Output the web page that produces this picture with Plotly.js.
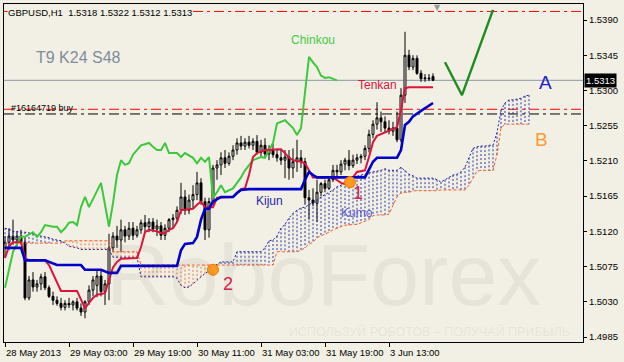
<!DOCTYPE html>
<html><head><meta charset="utf-8">
<script src="https://cdn.plot.ly/plotly-3.0.1.min.js"></script>
<style>html,body{margin:0;padding:0;background:#f2f0e4;overflow:hidden}#chart{width:624px;height:362px}</style>
</head><body><div id="chart"></div>
<script>
// ---- price bars (GBPUSD H1), bar index 0 = 28 May 2013 11:00 ----
const open = [1.5099,1.5106,1.5114,1.5109,1.5114,1.5106,1.5035,1.5058,1.5049,1.5053,
1.5062,1.5048,1.5037,1.5032,1.5028,1.5023,1.5028,1.5026,1.5030,1.5022,
1.5017,1.5030,1.5045,1.5051,1.5063,1.5043,1.5053,1.5099,1.5114,1.5109,
1.5122,1.5114,1.5124,1.5115,1.5122,1.5131,1.5126,1.5132,1.5123,1.5127,
1.5115,1.5124,1.5135,1.5137,1.5147,1.5164,1.5147,1.5160,1.5167,1.5182,
1.5158,1.5122,1.5158,1.5201,1.5205,1.5214,1.5207,1.5216,1.5224,1.5233,
1.5229,1.5234,1.5230,1.5235,1.5221,1.5230,1.5219,1.5224,1.5218,1.5214,
1.5211,1.5215,1.5201,1.5209,1.5214,1.5209,1.5163,1.5160,1.5156,1.5170,
1.5181,1.5175,1.5186,1.5198,1.5196,1.5206,1.5211,1.5204,1.5211,1.5214,
1.5216,1.5226,1.5244,1.5257,1.5265,1.5260,1.5252,1.5248,1.5252,1.5237,
1.5294,1.5345,1.5330,1.5341,1.5322,1.5315,1.5316,1.5318];
const high = [1.5114,1.5124,1.5135,1.5119,1.5122,1.5112,1.5063,1.5068,1.5058,1.5066,
1.5068,1.5051,1.5043,1.5037,1.5035,1.5032,1.5035,1.5032,1.5035,1.5028,
1.5032,1.5051,1.5063,1.5071,1.5071,1.5058,1.5117,1.5119,1.5127,1.5135,
1.5127,1.5132,1.5132,1.5127,1.5135,1.5141,1.5137,1.5137,1.5135,1.5132,
1.5129,1.5137,1.5142,1.5152,1.5182,1.5173,1.5167,1.5179,1.5196,1.5188,
1.5163,1.5163,1.5205,1.5211,1.5221,1.5224,1.5221,1.5230,1.5239,1.5242,
1.5239,1.5242,1.5239,1.5243,1.5237,1.5239,1.5230,1.5232,1.5226,1.5224,
1.5224,1.5224,1.5226,1.5237,1.5224,1.5214,1.5173,1.5175,1.5186,1.5183,
1.5186,1.5188,1.5205,1.5205,1.5211,1.5214,1.5224,1.5218,1.5219,1.5219,
1.5230,1.5250,1.5262,1.5285,1.5273,1.5267,1.5262,1.5260,1.5273,1.5303,
1.5375,1.5352,1.5345,1.5345,1.5326,1.5321,1.5321,1.5322];
const low = [1.5086,1.5096,1.5103,1.5101,1.5103,1.5032,1.5032,1.5043,1.5043,1.5045,
1.5045,1.5035,1.5026,1.5025,1.5019,1.5019,1.5022,1.5019,1.5019,1.5012,
1.5009,1.5026,1.5037,1.5036,1.5037,1.5026,1.5032,1.5094,1.5099,1.5094,
1.5106,1.5109,1.5109,1.5112,1.5117,1.5119,1.5119,1.5119,1.5114,1.5109,
1.5109,1.5119,1.5124,1.5132,1.5142,1.5141,1.5142,1.5150,1.5160,1.5154,
1.5109,1.5112,1.5154,1.5186,1.5192,1.5201,1.5204,1.5211,1.5218,1.5224,
1.5224,1.5226,1.5224,1.5218,1.5216,1.5214,1.5211,1.5214,1.5209,1.5205,
1.5188,1.5186,1.5188,1.5196,1.5201,1.5154,1.5135,1.5152,1.5132,1.5165,
1.5170,1.5173,1.5183,1.5188,1.5192,1.5198,1.5198,1.5201,1.5206,1.5207,
1.5211,1.5221,1.5239,1.5250,1.5247,1.5247,1.5244,1.5242,1.5234,1.5234,
1.5284,1.5326,1.5326,1.5320,1.5311,1.5311,1.5312,1.5312];
const close = [1.5106,1.5114,1.5109,1.5114,1.5106,1.5035,1.5058,1.5049,1.5053,1.5062,
1.5048,1.5037,1.5032,1.5028,1.5023,1.5028,1.5026,1.5030,1.5022,1.5017,
1.5030,1.5045,1.5058,1.5063,1.5043,1.5053,1.5099,1.5114,1.5109,1.5122,
1.5114,1.5124,1.5115,1.5122,1.5131,1.5126,1.5132,1.5123,1.5127,1.5115,
1.5124,1.5135,1.5137,1.5147,1.5164,1.5147,1.5160,1.5167,1.5182,1.5158,
1.5122,1.5158,1.5201,1.5205,1.5214,1.5207,1.5216,1.5224,1.5233,1.5229,
1.5234,1.5230,1.5235,1.5221,1.5230,1.5219,1.5224,1.5218,1.5214,1.5211,
1.5215,1.5201,1.5209,1.5214,1.5209,1.5163,1.5160,1.5156,1.5170,1.5181,
1.5175,1.5186,1.5198,1.5196,1.5206,1.5211,1.5204,1.5211,1.5214,1.5216,
1.5226,1.5244,1.5257,1.5265,1.5260,1.5252,1.5248,1.5252,1.5237,1.5294,
1.5345,1.5330,1.5341,1.5322,1.5315,1.5316,1.5315,1.5313];

// ---- Ichimoku lines (vertices: bar index / price) ----
const tenkanIdx = [0,1,2,4,5,6,10,11,14,18,20,21,22,23,25,26,27,28,29,33,34,35,36,38,39,40,41,42,43,44,47,48,49,50,52,53,57,58,59,60,61,62,63,65,69,70,71,72,74,75,76,77,82,84,86,87,88,90,91,92,93,95,97,98,99,100,101,107];
const tenkanVal = [1.5086,1.5101,1.5106,1.5106,1.5086,1.5083,1.5083,1.5077,1.5044,1.5044,1.5022,1.5028,1.5035,1.5039,1.5041,1.5058,1.5074,1.5081,1.5085,1.5086,1.5100,1.5119,1.5122,1.5120,1.5118,1.5118,1.5122,1.5124,1.5132,1.5147,1.5149,1.5154,1.5158,1.5151,1.5151,1.5163,1.5164,1.5169,1.5174,1.5175,1.5192,1.5215,1.5220,1.5224,1.5225,1.5220,1.5214,1.5211,1.5209,1.5207,1.5198,1.5189,1.5189,1.5182,1.5179,1.5189,1.5196,1.5198,1.5215,1.5234,1.5242,1.5246,1.5250,1.5253,1.5275,1.5303,1.5304,1.5304];

const kijunIdx = [0,4,5,10,13,19,20,24,26,28,29,43,44,45,47,48,49,50,51,52,54,57,58,59,61,74,75,76,77,78,90,92,93,98,99,100,101,102,104,106,107];
const kijunVal = [1.5099,1.5099,1.5083,1.5083,1.5077,1.5077,1.5071,1.5071,1.5067,1.5067,1.5076,1.5076,1.5096,1.5104,1.5105,1.5113,1.5135,1.5149,1.5149,1.5158,1.5164,1.5164,1.5169,1.5173,1.5174,1.5174,1.5186,1.5196,1.5192,1.5189,1.5189,1.5209,1.5214,1.5214,1.5224,1.5256,1.5260,1.5267,1.5274,1.5280,1.5284];

const chinkouIdx = [0,2,4,5,7,8,9,10,12,13,14,15,16,17,18,19,20,21,24,25,26,27,28,29,30,31,32,34,36,37,38,39,40,41,43,44,45,47,48,49,50,51,52,53,54,55,57,59,60,62,64,65,67,68,70,72,73,74,75,76,77,78,79,80,81,82,83];
const chinkouVal = [1.5048,1.5094,1.5113,1.5113,1.5119,1.5113,1.5119,1.5128,1.5126,1.5126,1.5119,1.5124,1.5131,1.5132,1.5128,1.5151,1.5164,1.5151,1.5182,1.5156,1.5126,1.5156,1.5192,1.5211,1.5205,1.5207,1.5218,1.5230,1.5233,1.5228,1.5224,1.5224,1.5233,1.5220,1.5220,1.5215,1.5220,1.5214,1.5207,1.5214,1.5209,1.5215,1.5163,1.5170,1.5179,1.5170,1.5175,1.5189,1.5198,1.5211,1.5215,1.5214,1.5233,1.5258,1.5262,1.5252,1.5243,1.5252,1.5294,1.5343,1.5336,1.5330,1.5319,1.5316,1.5317,1.5315,1.5313];

// Senkou spans, one value per bar (index 0..131, shifted 24 bars forward)
const senkouA = [1.5124,1.5123,1.5120,1.5120,1.5119,1.5119,1.5118,1.5117,1.5115,1.5114,
1.5113,1.5112,1.5110,1.5109,1.5108,1.5105,1.5101,1.5100,1.5099,1.5097,
1.5097,1.5097,1.5097,1.5097,1.5097,1.5097,1.5097,1.5087,1.5087,1.5087,
1.5087,1.5087,1.5087,1.5087,1.5062,1.5062,1.5062,1.5062,1.5062,1.5062,
1.5062,1.5062,1.5062,1.5060,1.5051,1.5048,1.5049,1.5053,1.5058,1.5062,
1.5066,1.5069,1.5073,1.5078,1.5081,1.5081,1.5081,1.5081,1.5094,1.5094,
1.5094,1.5094,1.5094,1.5094,1.5094,1.5099,1.5108,1.5109,1.5114,1.5124,
1.5129,1.5137,1.5143,1.5147,1.5150,1.5151,1.5154,1.5156,1.5160,1.5164,
1.5167,1.5169,1.5173,1.5177,1.5179,1.5183,1.5187,1.5189,1.5191,1.5192,
1.5193,1.5195,1.5196,1.5197,1.5198,1.5200,1.5198,1.5198,1.5198,1.5202,
1.5198,1.5193,1.5191,1.5188,1.5188,1.5188,1.5188,1.5188,1.5186,1.5183,
1.5186,1.5189,1.5192,1.5193,1.5196,1.5202,1.5214,1.5226,1.5228,1.5229,
1.5229,1.5230,1.5230,1.5246,1.5275,1.5284,1.5288,1.5288,1.5289,1.5290,
1.5293,1.5294];
const senkouB = [1.5105,1.5105,1.5105,1.5105,1.5105,1.5105,1.5105,1.5105,1.5105,1.5105,
1.5105,1.5105,1.5105,1.5105,1.5105,1.5108,1.5108,1.5108,1.5108,1.5108,
1.5108,1.5108,1.5108,1.5108,1.5108,1.5108,1.5108,1.5094,1.5094,1.5094,
1.5094,1.5094,1.5094,1.5094,1.5077,1.5077,1.5077,1.5077,1.5077,1.5077,
1.5077,1.5077,1.5077,1.5077,1.5077,1.5077,1.5077,1.5077,1.5077,1.5077,
1.5077,1.5077,1.5077,1.5077,1.5077,1.5077,1.5077,1.5077,1.5077,1.5077,
1.5077,1.5077,1.5077,1.5077,1.5077,1.5077,1.5077,1.5077,1.5094,1.5094,
1.5094,1.5094,1.5094,1.5094,1.5096,1.5099,1.5104,1.5106,1.5112,1.5114,
1.5117,1.5119,1.5122,1.5124,1.5127,1.5128,1.5128,1.5129,1.5129,1.5131,
1.5132,1.5135,1.5140,1.5141,1.5141,1.5141,1.5142,1.5154,1.5164,1.5169,
1.5170,1.5170,1.5172,1.5172,1.5172,1.5172,1.5172,1.5172,1.5172,1.5173,
1.5173,1.5173,1.5173,1.5173,1.5173,1.5173,1.5179,1.5189,1.5197,1.5198,
1.5198,1.5198,1.5198,1.5218,1.5252,1.5257,1.5257,1.5257,1.5257,1.5257,
1.5257,1.5257];

// axis ticks
const yTicks = [1.4985,1.5030,1.5075,1.5120,1.5165,1.5210,1.5255,1.5300,1.5345,1.5390];
const xTickIdx = [0,16,32,48,64,80,96];
const xTickText = ["28 May 2013","29 May 03:00","29 May 19:00","30 May 11:00","31 May 03:00","31 May 19:00","3 Jun 13:00"];

// horizontal levels
const redLevels = [1.5401, 1.5276];
const orderLevel = 1.5270;
const bidPrice = 1.5313;

// signal circles and forecast tick
const signalIdx = [86.25, 52];
const signalPrice = [1.5183, 1.5071];
const signalText = ["1", "2"];
const forecastIdx = [110, 114.25, 122];
const forecastPrice = [1.5336, 1.5294, 1.5403];

// ---------- build ----------
const BG = '#f2f0e4';
const FONT = 'Liberation Sans, Arial, sans-serif';
const bars = open.map((_, i) => i);
const cloudIdx = senkouA.map((_, i) => i);
// pixel helpers for label placement only
const X = px => (px - 5) / 4;
const P = py => 1.54156 - 0.00012776 * py;

const hatchBlue = {x: [], y: []}, hatchOrange = {x: [], y: []};
senkouA.forEach((a, i) => {
  const b = senkouB[i];
  const t = a >= b ? hatchBlue : hatchOrange;
  t.x.push(i, i, null); t.y.push(a, b, null);
});

const traces = [
  {type:'scatter', mode:'lines', x:hatchOrange.x, y:hatchOrange.y, line:{color:'#e8784a', width:1, dash:'2px,2px'}, hoverinfo:'skip', connectgaps:false},
  {type:'scatter', mode:'lines', x:hatchBlue.x, y:hatchBlue.y, line:{color:'#3038a8', width:1, dash:'2px,2px'}, hoverinfo:'skip', connectgaps:false},
  {type:'scatter', mode:'lines', x:cloudIdx, y:senkouB, line:{color:'#ff5a1e', width:1, dash:'3px,2px'}, hoverinfo:'skip'},
  {type:'scatter', mode:'lines', x:cloudIdx, y:senkouA, line:{color:'#2020a0', width:1, dash:'2px,2px'}, hoverinfo:'skip'},
  {type:'candlestick', x:bars, open:open, high:high, low:low, close:close,
    increasing:{line:{color:'#000', width:1}, fillcolor:BG},
    decreasing:{line:{color:'#000', width:1}, fillcolor:'#000'},
    whiskerwidth:0, hoverinfo:'none'},
  {type:'scatter', mode:'lines', x:chinkouIdx, y:chinkouVal, line:{color:'#3cc83c', width:2}, hoverinfo:'skip'},
  {type:'scatter', mode:'lines', x:tenkanIdx, y:tenkanVal, line:{color:'#dc143c', width:2}, hoverinfo:'skip'},
  {type:'scatter', mode:'lines', x:kijunIdx, y:kijunVal, line:{color:'#0000c8', width:2.6}, hoverinfo:'skip'},
  {type:'scatter', mode:'lines', x:forecastIdx, y:forecastPrice, line:{color:'#1f8c1f', width:2.4}, hoverinfo:'skip'},
  {type:'scatter', mode:'markers', x:signalIdx, y:signalPrice, marker:{color:'#ff9a1e', size:11, line:{color:'#f07a00', width:1}}, hoverinfo:'skip'}
];

const dashDot = '10px,4px,3px,4px';
const shapes = [
  ...redLevels.map(v => ({type:'line', layer:'below', xref:'paper', x0:0, x1:1, yref:'y', y0:v, y1:v, line:{color:'#ff0000', width:1, dash:dashDot}})),
  {type:'line', layer:'below', xref:'paper', x0:0, x1:1, yref:'y', y0:orderLevel, y1:orderLevel, line:{color:'#000000', width:1, dash:dashDot}},
  {type:'line', layer:'below', xref:'paper', x0:0, x1:1, yref:'y', y0:bidPrice, y1:bidPrice, line:{color:'#8a98a6', width:1}}
];

const ann = (o) => Object.assign({showarrow:false, xref:'x', yref:'y', xanchor:'left', yanchor:'middle'}, o);
const annotations = [
  ann({x:X(104), y:P(274), text:'RoboForex', font:{family:FONT, size:88, color:'rgba(110,110,90,0.085)'}}),
  ann({x:X(287), y:P(331), text:'ИСПОЛЬЗУЙ РОБОТОВ – ПОЛУЧАЙ ПРИБЫЛЬ', font:{family:FONT, size:12.5, color:'rgba(110,110,90,0.1)'}}),
  ann({x:X(7), y:P(12), text:'GBPUSD,H1\u00a0\u00a01.5318 1.5322 1.5312 1.5313', bgcolor:BG, borderpad:0, font:{family:FONT, size:9.5, color:'#000'}}),
  ann({x:X(34), y:P(57), text:'T9 K24 S48', font:{family:FONT, size:16, color:'#7f8c9c'}}),
  ann({x:X(289), y:P(40), text:'Chinkou', font:{family:FONT, size:12, color:'#44c844'}}),
  ann({x:X(356), y:P(85), text:'Tenkan', font:{family:FONT, size:12, color:'#dc143c'}}),
  ann({x:X(254), y:P(201), text:'Kijun', font:{family:FONT, size:12, color:'#2828a8'}}),
  ann({x:X(339), y:P(213), text:'Kumo', font:{family:FONT, size:12, color:'#5a5ad0'}}),
  ann({x:X(9), y:P(108), text:'#16164719 buy', font:{family:FONT, size:9, color:'#000'}}),
  ann({x:X(545), y:P(82), xanchor:'center', text:'A', font:{family:FONT, size:19, color:'#2020d0'}}),
  ann({x:X(541), y:P(139), xanchor:'center', text:'B', font:{family:FONT, size:19, color:'#ff9a30'}}),
  ann({x:X(358), y:P(193), xanchor:'center', text:signalText[0], font:{family:FONT, size:18, color:'#d8204c'}}),
  ann({x:X(228), y:P(284), xanchor:'center', text:signalText[1], font:{family:FONT, size:18, color:'#d8204c'}}),
  ann({x:X(437), y:P(7), xanchor:'center', text:'▼', font:{family:'DejaVu Sans', size:8, color:'#9a9a9a'}}),
  {xref:'paper', x:1, xanchor:'left', xshift:1, yref:'y', y:bidPrice, yanchor:'middle', showarrow:false, text:bidPrice.toFixed(4), bgcolor:'#000', borderpad:1, font:{family:FONT, size:9.5, color:'#fff'}},
  ...xTickIdx.map((t, k) => ({xref:'x', x:t, xanchor:'left', xshift:-1, yref:'paper', y:0, yanchor:'top', yshift:-3, showarrow:false, text:xTickText[k], font:{family:FONT, size:9.5, color:'#000'}}))
];

const layout = {
  width:624, height:362,
  margin:{l:4, r:41, t:4, b:20, pad:0},
  paper_bgcolor:BG, plot_bgcolor:BG,
  showlegend:false, hovermode:false,
  boxgap:0.3,
  xaxis:{range:[-0.25, 144.5], showgrid:false, zeroline:false, tickvals:xTickIdx, ticktext:xTickIdx.map(() => ''),
    ticks:'outside', ticklen:4, tickcolor:'#000', showline:true, linecolor:'#000', linewidth:1, mirror:true,
    rangeslider:{visible:false}, fixedrange:true},
  yaxis:{range:[1.49787, 1.54105], side:'right', tickvals:yTicks, ticktext:yTicks.map(v => v.toFixed(4)),
    ticks:'outside', ticklen:3, tickcolor:'#000', showgrid:false, zeroline:false, showline:true, linecolor:'#000', linewidth:1, mirror:true,
    tickfont:{family:FONT, size:9.5, color:'#000'}, fixedrange:true},
  shapes:shapes, annotations:annotations
};

Plotly.newPlot('chart', traces, layout, {staticPlot:true, displayModeBar:false});
</script>
</body></html>
